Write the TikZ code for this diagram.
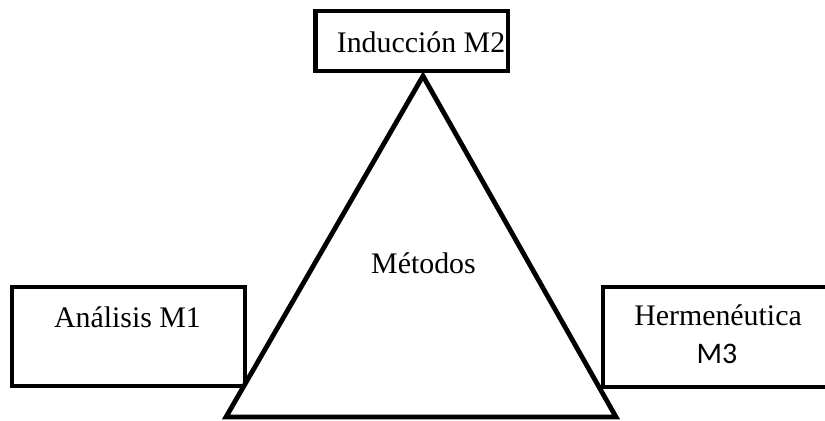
\documentclass[tikz,border=0pt]{standalone}
\usepackage{fontspec}
\setmainfont{Liberation Serif}
\newfontfamily\calibri{Carlito}
\usetikzlibrary{positioning}
\begin{document}
\begin{tikzpicture}[x=0.75pt, y=-0.75pt]
% --- Layout & Styles --------------------------------------
\tikzstyle{box}=[draw, line width=3.6pt, inner sep=0, fill=white];
\tikzstyle{tri}=[draw, line width=3.6pt, fill=white, line join=miter];
\tikzstyle{word}=[inner sep=0, anchor=base, font=\fontsize{22.4}{26}\selectfont];
\useasboundingbox (0,0) rectangle (825,421);
% --- Boxes ------------------------------------------------
\node (induccion) [box, minimum width=144.4pt, minimum height=45pt] at (411.75,41) {};
\node (analisis) [box, minimum width=174.75pt, minimum height=74.25pt] at (128.5,336.5) {};
\node (hermeneutica) [box, minimum width=174.75pt, minimum height=75pt] at (719.5,337) {};
% --- Triangle ---------------------------------------------
\coordinate (apex) at (423,76);
\coordinate (bl) at (226,417);
\coordinate (br) at (616,417);
\draw [tri] (bl) -- (apex) -- (br) -- cycle;
% --- Node labels ------------------------------------------
\node (t2) [word] at (421,52) {Inducción M2};
\node (t1) [word] at (127.5,327) {Análisis M1};
\node (t3) [word] at (718,325) {Hermenéutica};
\node (m3) [word, font=\fontsize{22.4}{26}\calibri] at (717,363) {M3};
\node (metodos) [word] at (423.5,273) {Métodos};
\end{tikzpicture}
\end{document}
